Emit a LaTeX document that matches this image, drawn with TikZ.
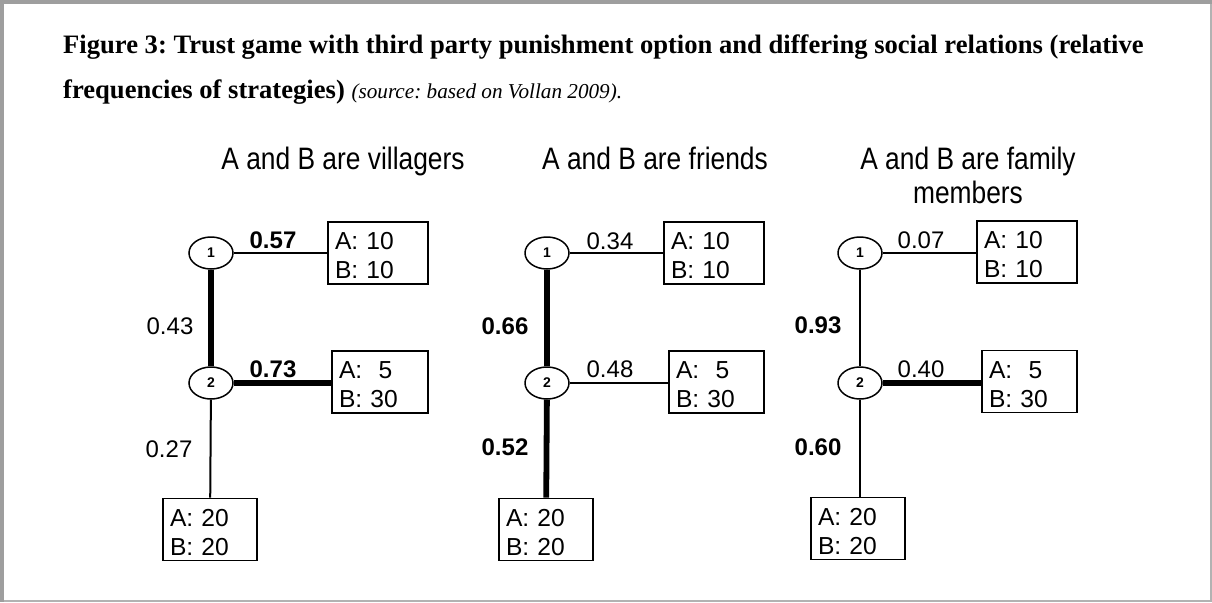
\documentclass[tikz,border=0pt]{standalone}
\usepackage{fontspec}
\setmainfont{Liberation Serif}
\newfontfamily\arialfont{Liberation Sans}
\newfontfamily\narrowfont[FakeStretch=0.85]{Liberation Sans}
\usetikzlibrary{shapes.geometric}
\frenchspacing

\tikzset{
  frameline/.style={line width=4pt, color=black!38},
  framelight/.style={line width=2pt, color=black!30},
  captionline/.style={anchor=base west, inner sep=0pt, font=\bfseries\fontsize{26.6}{26.6}\selectfont},
  coltitle/.style={font=\narrowfont\fontsize{31}{34}\selectfont, inner sep=0pt, anchor=base},
  decision/.style={draw, ellipse, line width=1.5pt, minimum width=44pt, minimum height=32pt,
    inner sep=0pt, font=\arialfont\bfseries\fontsize{14}{14}\selectfont},
  payoff/.style={draw, rectangle, line width=1.6pt, inner xsep=7pt, inner ysep=0pt,
    minimum height=62pt, align=left, text width=#1-14pt,
    font=\arialfont\fontsize{24.6}{29}\selectfont},
  prob/.style={inner sep=0pt, anchor=base, font=\arialfont\fontsize{24}{24}\selectfont},
  probbold/.style={prob, font=\arialfont\bfseries\fontsize{24}{24}\selectfont},
  thin edge/.style={line width=2pt},
  thick edge/.style={line width=5.8pt},
}
% first line of a payoff box, with a strut that sets its top margin
\newcommand\payofftop{\rule{0pt}{23pt}}

\begin{document}
\begin{tikzpicture}[x=1pt, y=-1pt]
\useasboundingbox (0,0) rectangle (1212,602);

% page frame
\draw[framelight] (0,601) -- (1212,601);
\draw[framelight] (1210.5,0) -- (1210.5,602);
\draw[frameline] (0,2) -- (1212,2);
\draw[frameline] (2,0) -- (2,602);

% caption
\node[captionline] (cap1) at (63,53)
  {Figure 3: Trust game with third party punishment option and differing social relations (relative};
\node[captionline] (cap2) at (63,98)
  {frequencies of strategies) {\mdseries\itshape\fontsize{21.2}{21.2}\selectfont(source: based on Vollan 2009).}};

% column headings
\node[coltitle] (h1) at (343,169) {A and B are villagers};
\node[coltitle] (h2) at (655,169) {A and B are friends};
\node[coltitle] (h3) at (968,169) {A and B are family};
\node[coltitle] (h3b) at (968,203) {members};

% ---- villagers ----
\node[decision] (a1) at (211,253) {1};
\node[decision] (a2) at (211,383) {2};
\node[payoff=100pt] (aT) at (378,253) {\payofftop A: 10\\B: 10};
\node[payoff=96pt]  (aR) at (380,382) {\payofftop A:\ \ 5\\B: 30};
\node[payoff=94pt]  (aD) at (210,529.5) {\payofftop A: 20\\B: 20};
\draw[thin edge]  (a1) -- (aT);
\draw[thick edge] (a1) -- (a2);
\draw[thick edge] (a2) -- (a2 -| aR.west);
\draw[thin edge]  (a2) -- (aD);
\node[probbold] (pa1) at (273,248) {0.57};
\node[probbold] (pa2) at (273,377) {0.73};
\node[prob]     (pa3) at (170,334) {0.43};
\node[prob]     (pa4) at (169,457) {0.27};

% ---- friends ----
\node[decision] (b1) at (547,253) {1};
\node[decision] (b2) at (547,383) {2};
\node[payoff=100pt] (bT) at (714,253) {\payofftop A: 10\\B: 10};
\node[payoff=95pt]  (bR) at (716.5,382) {\payofftop A:\ \ 5\\B: 30};
\node[payoff=94pt]  (bD) at (546,529.5) {\payofftop A: 20\\B: 20};
\draw[thin edge]  (b1) -- (bT);
\draw[thick edge] (b1) -- (b2);
\draw[thin edge]  (b2) -- (b2 -| bR.west);
\draw[thick edge] (b2) -- (bD);
\node[prob]     (pb1) at (610,249) {0.34};
\node[prob]     (pb2) at (610,377) {0.48};
\node[probbold] (pb3) at (505,334) {0.66};
\node[probbold] (pb4) at (505,455) {0.52};

% ---- family members ----
\node[decision] (c1) at (860,253) {1};
\node[decision] (c2) at (860,383) {2};
\node[payoff=100pt] (cT) at (1027,252) {\payofftop A: 10\\B: 10};
\node[payoff=95pt]  (cR) at (1029.5,381.5) {\payofftop A:\ \ 5\\B: 30};
\node[payoff=94pt]  (cD) at (858,528.5) {\payofftop A: 20\\B: 20};
\draw[thin edge]  (c1) -- (c1 -| cT.west);
\draw[thin edge]  (c1) -- (c2);
\draw[thick edge] (c2) -- (c2 -| cR.west);
\draw[thin edge]  (c2) -- (c2 |- cD.north);
\node[prob]     (pc1) at (921,248) {0.07};
\node[prob]     (pc2) at (921,377) {0.40};
\node[probbold] (pc3) at (818,333) {0.93};
\node[probbold] (pc4) at (818,455) {0.60};
\end{tikzpicture}
\end{document}
